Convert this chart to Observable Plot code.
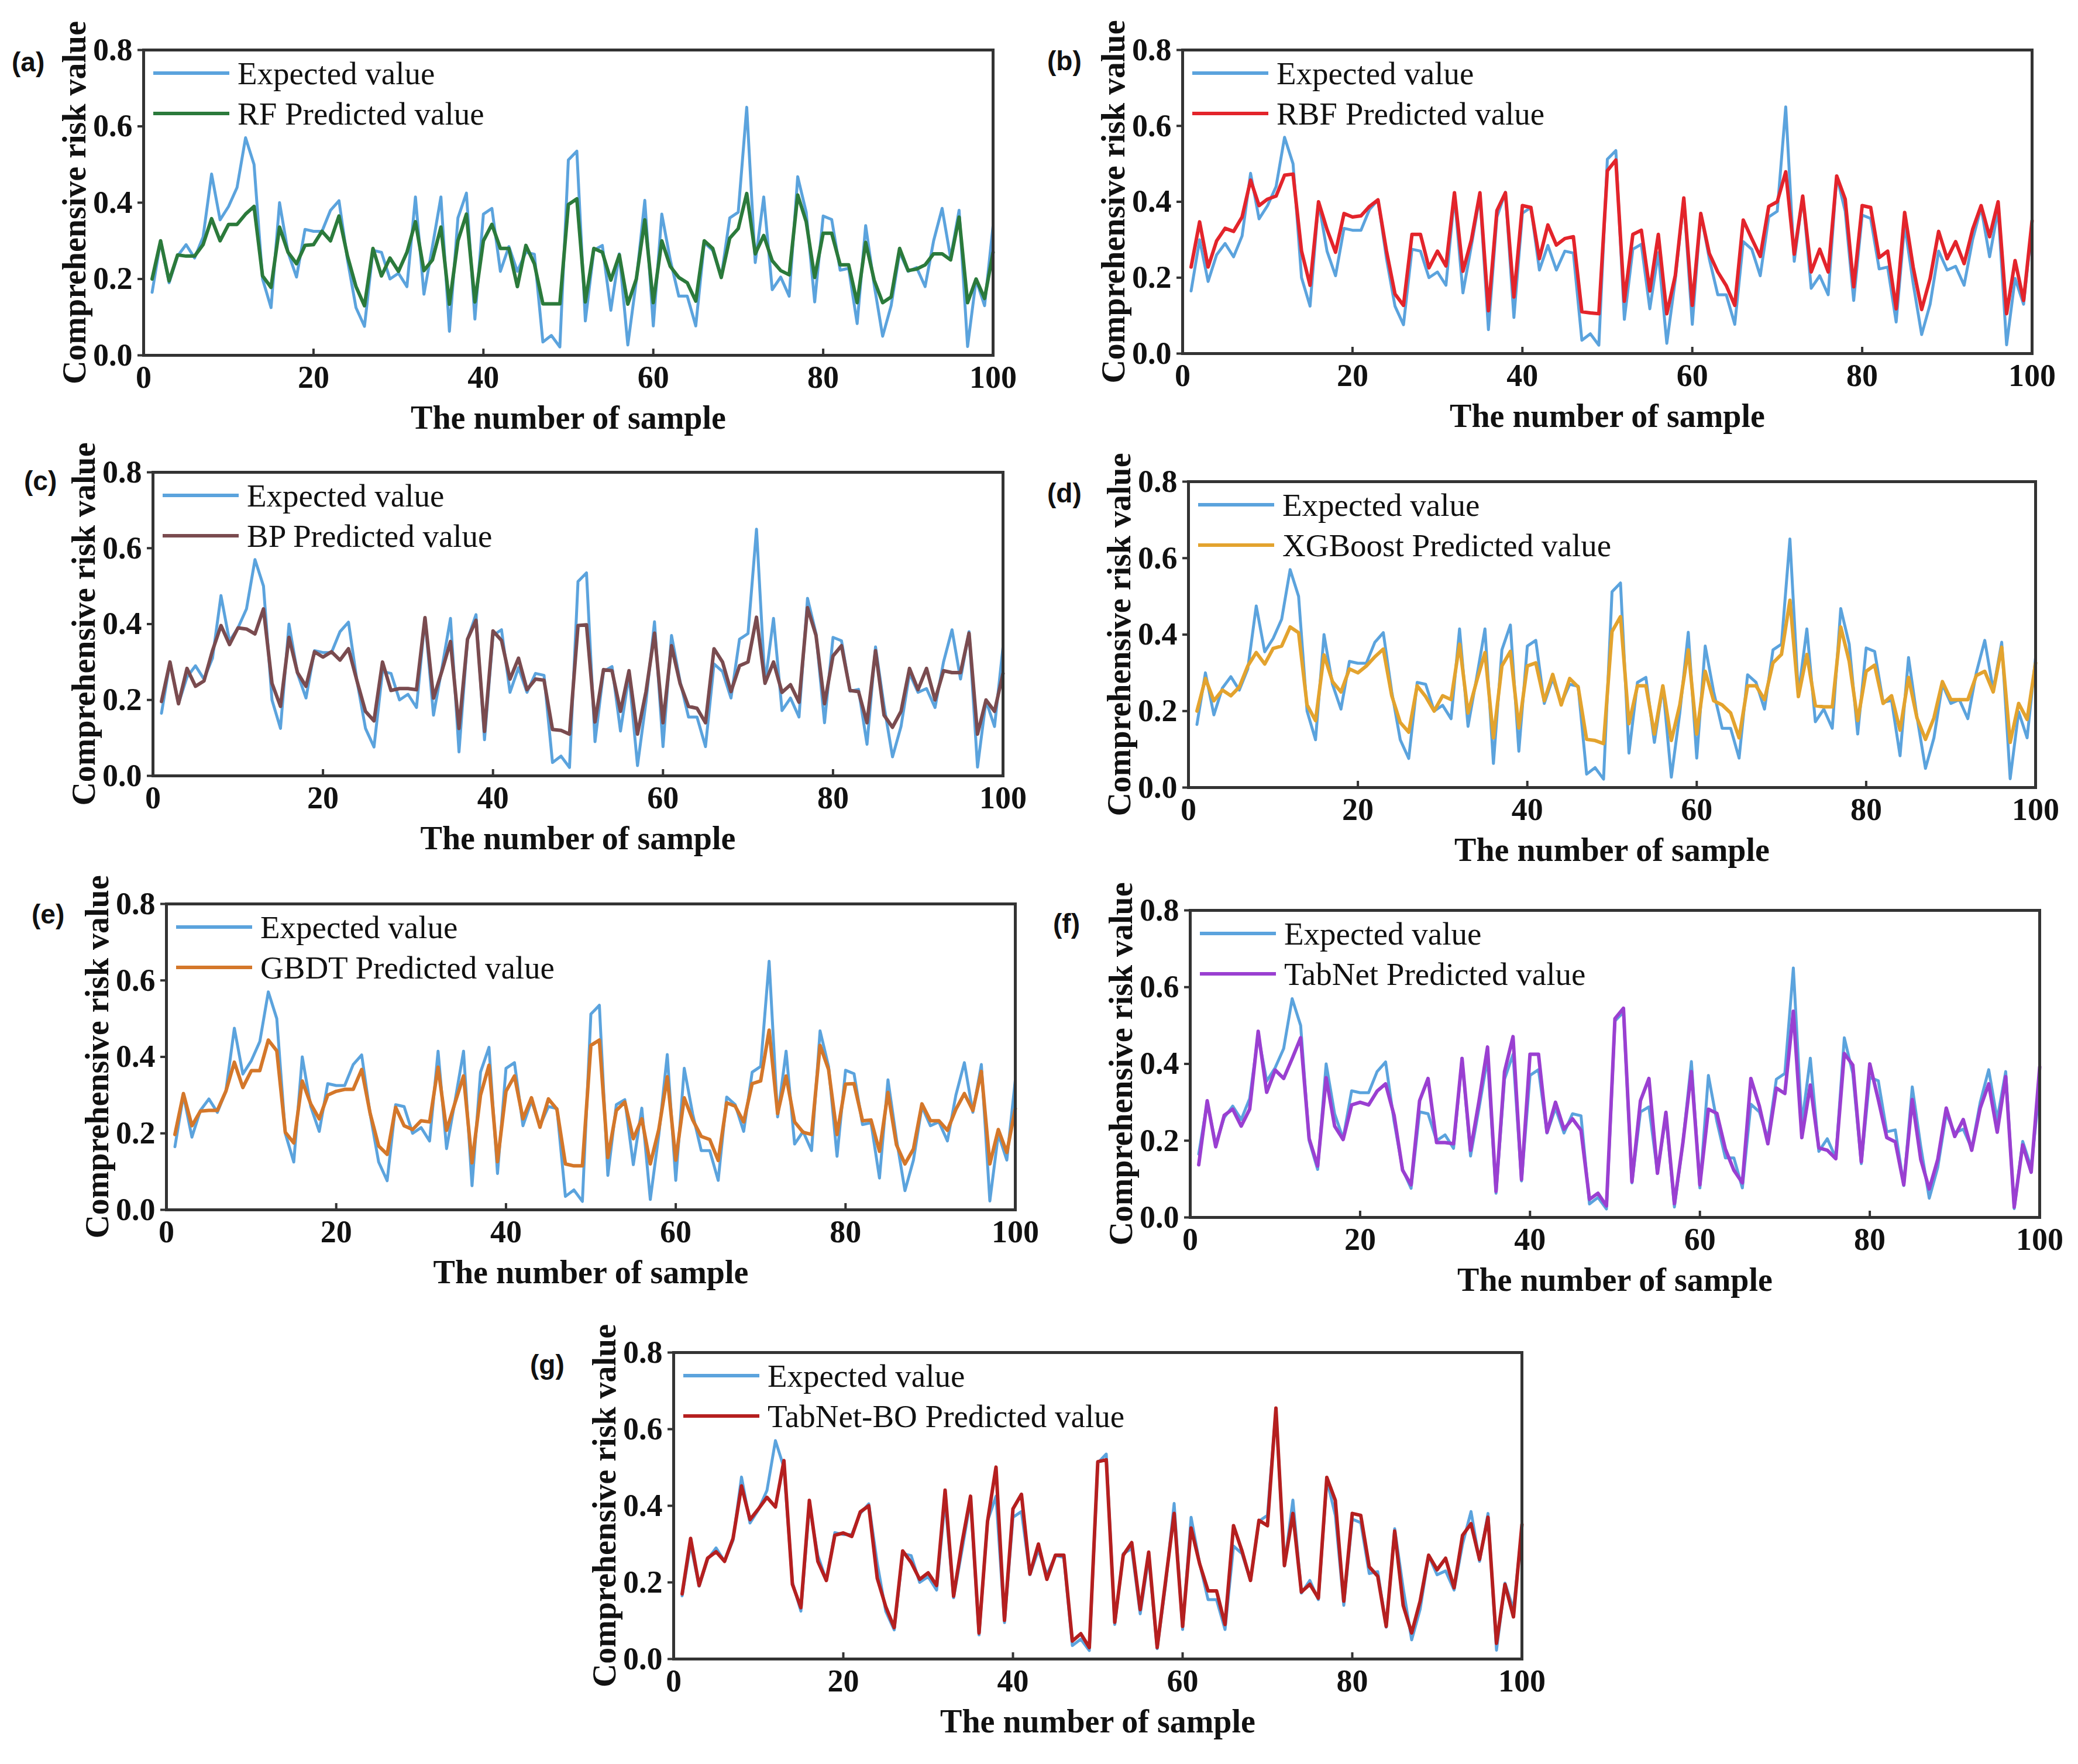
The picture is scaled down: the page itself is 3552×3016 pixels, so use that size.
<!DOCTYPE html>
<html><head><meta charset="utf-8">
<script src="https://cdn.jsdelivr.net/npm/d3@7"></script>
<script src="https://cdn.jsdelivr.net/npm/@observablehq/plot@0.6"></script>
<style>
html,body{margin:0;padding:0;background:#fff;}
#root{position:relative;width:3552px;height:3016px;overflow:hidden;background:#fff;}
#root svg{position:absolute;overflow:visible;}
.tag{position:absolute;font-family:"Liberation Sans",Arial,sans-serif;font-weight:bold;font-size:46px;line-height:1;color:#111;transform:translateY(-50%);}
.legend{position:absolute;font-family:"Liberation Serif","Times New Roman",serif;font-size:55px;color:#111;}
.legend .row{position:absolute;left:0;display:flex;align-items:center;white-space:nowrap;height:60px;}
.legend .sw{width:130px;height:6px;margin-right:14px;}
</style></head><body><div id="root"></div>
<script>
const samples = d3.range(1, 101);
const xTicks = [0, 20, 40, 60, 80, 100];
const xTickLabels = ["0", "20", "40", "60", "80", "100"];
const yTicks = [0, 0.2, 0.4, 0.6, 0.8];
const yTickLabels = ["0.0", "0.2", "0.4", "0.6", "0.8"];
const xTitle = "The number of sample";
const yTitle = "Comprehensive risk value";
const expectedName = "Expected value";

const expected = [0.165,0.30,0.19,0.26,0.29,0.255,0.31,0.475,0.355,0.39,
 0.44,0.57,0.50,0.20,0.125,0.40,0.27,0.205,0.33,0.325,
 0.325,0.38,0.405,0.25,0.125,0.076,0.275,0.27,0.20,0.215,
 0.18,0.415,0.16,0.285,0.415,0.063,0.36,0.425,0.095,0.37,
 0.385,0.22,0.285,0.22,0.27,0.265,0.035,0.052,0.022,0.512,
 0.535,0.09,0.275,0.288,0.118,0.266,0.027,0.195,0.406,0.077,
 0.37,0.25,0.155,0.155,0.077,0.295,0.275,0.205,0.36,0.375,
 0.65,0.243,0.415,0.172,0.205,0.155,0.468,0.375,0.14,0.365,
 0.356,0.223,0.228,0.083,0.34,0.185,0.05,0.13,0.27,0.22,
 0.23,0.18,0.30,0.385,0.255,0.38,0.023,0.198,0.13,0.34];

const rfPred = [0.20,0.30,0.195,0.263,0.26,0.26,0.29,0.358,0.30,0.343,
 0.343,0.37,0.39,0.208,0.178,0.336,0.27,0.24,0.288,0.29,
 0.325,0.30,0.365,0.26,0.18,0.13,0.28,0.208,0.255,0.22,
 0.27,0.35,0.222,0.25,0.336,0.134,0.30,0.37,0.14,0.30,
 0.343,0.28,0.28,0.18,0.288,0.24,0.135,0.135,0.135,0.395,
 0.41,0.14,0.28,0.27,0.197,0.263,0.134,0.2,0.355,0.138,
 0.30,0.233,0.204,0.19,0.142,0.30,0.28,0.204,0.307,0.332,
 0.424,0.266,0.314,0.248,0.222,0.211,0.42,0.35,0.204,0.32,
 0.32,0.237,0.237,0.138,0.296,0.197,0.138,0.153,0.28,0.222,
 0.226,0.237,0.266,0.266,0.25,0.362,0.138,0.2,0.149,0.27];

const rbfPred = [0.228,0.347,0.228,0.297,0.33,0.322,0.36,0.457,0.39,0.407,
 0.415,0.47,0.473,0.27,0.18,0.40,0.327,0.267,0.369,0.36,
 0.363,0.388,0.405,0.27,0.157,0.127,0.314,0.314,0.226,0.27,
 0.231,0.424,0.217,0.30,0.424,0.113,0.377,0.424,0.149,0.39,
 0.385,0.25,0.339,0.286,0.303,0.308,0.11,0.107,0.105,0.482,
 0.51,0.138,0.314,0.325,0.165,0.314,0.105,0.206,0.41,0.127,
 0.369,0.264,0.215,0.179,0.127,0.352,0.303,0.256,0.388,0.40,
 0.479,0.262,0.415,0.215,0.275,0.215,0.468,0.407,0.176,0.39,
 0.385,0.253,0.27,0.118,0.372,0.228,0.116,0.198,0.322,0.25,
 0.295,0.237,0.327,0.39,0.308,0.40,0.105,0.245,0.14,0.35];

const bpPred = [0.196,0.30,0.19,0.283,0.236,0.25,0.33,0.396,0.346,0.39,
 0.387,0.374,0.44,0.244,0.183,0.365,0.272,0.236,0.327,0.313,
 0.327,0.305,0.335,0.25,0.17,0.145,0.30,0.225,0.23,0.23,
 0.227,0.417,0.205,0.277,0.354,0.125,0.36,0.41,0.117,0.382,
 0.357,0.255,0.31,0.227,0.255,0.252,0.122,0.12,0.11,0.396,
 0.398,0.142,0.28,0.277,0.17,0.277,0.11,0.222,0.376,0.14,
 0.343,0.244,0.183,0.178,0.14,0.335,0.30,0.222,0.29,0.30,
 0.418,0.244,0.30,0.22,0.24,0.194,0.443,0.37,0.19,0.316,
 0.343,0.225,0.222,0.14,0.33,0.16,0.128,0.17,0.283,0.227,
 0.283,0.20,0.277,0.272,0.272,0.376,0.11,0.20,0.17,0.27];

const xgbPred = [0.20,0.285,0.227,0.255,0.24,0.263,0.318,0.353,0.323,0.364,
 0.37,0.42,0.405,0.216,0.175,0.347,0.277,0.25,0.31,0.30,
 0.318,0.342,0.362,0.24,0.17,0.145,0.266,0.238,0.20,0.24,
 0.23,0.375,0.195,0.277,0.353,0.13,0.318,0.356,0.156,0.318,
 0.326,0.227,0.296,0.216,0.285,0.263,0.126,0.123,0.115,0.408,
 0.447,0.167,0.266,0.266,0.14,0.266,0.123,0.216,0.36,0.14,
 0.304,0.227,0.216,0.195,0.13,0.266,0.266,0.23,0.326,0.348,
 0.49,0.238,0.348,0.214,0.211,0.211,0.42,0.33,0.175,0.304,
 0.32,0.22,0.24,0.15,0.288,0.182,0.126,0.182,0.277,0.23,
 0.23,0.23,0.293,0.304,0.25,0.367,0.118,0.22,0.178,0.326];

const gbdtPred = [0.197,0.304,0.22,0.258,0.26,0.26,0.31,0.386,0.32,0.364,
 0.364,0.444,0.416,0.203,0.175,0.337,0.277,0.238,0.30,0.31,
 0.315,0.315,0.367,0.252,0.167,0.145,0.268,0.22,0.21,0.233,
 0.23,0.373,0.208,0.28,0.35,0.123,0.30,0.378,0.126,0.31,
 0.35,0.238,0.293,0.216,0.29,0.263,0.12,0.115,0.115,0.43,
 0.444,0.137,0.26,0.282,0.186,0.238,0.12,0.21,0.348,0.13,
 0.293,0.235,0.192,0.184,0.129,0.28,0.271,0.23,0.33,0.337,
 0.47,0.252,0.35,0.23,0.203,0.197,0.43,0.367,0.197,0.329,
 0.33,0.233,0.235,0.153,0.307,0.17,0.12,0.159,0.277,0.233,
 0.233,0.208,0.263,0.304,0.26,0.362,0.12,0.21,0.15,0.265];

const tabnetPred = [0.137,0.304,0.184,0.266,0.282,0.238,0.282,0.485,0.326,0.384,
 0.362,0.414,0.468,0.205,0.134,0.364,0.238,0.203,0.293,0.30,
 0.293,0.329,0.348,0.266,0.123,0.085,0.304,0.362,0.195,0.195,
 0.192,0.414,0.175,0.304,0.444,0.068,0.38,0.471,0.099,0.425,
 0.425,0.222,0.30,0.23,0.257,0.227,0.047,0.063,0.03,0.518,
 0.545,0.093,0.304,0.362,0.115,0.274,0.036,0.195,0.38,0.085,
 0.282,0.271,0.178,0.123,0.09,0.362,0.29,0.192,0.337,0.323,
 0.537,0.208,0.345,0.181,0.175,0.153,0.427,0.397,0.145,0.40,
 0.307,0.208,0.197,0.085,0.307,0.151,0.074,0.151,0.285,0.211,
 0.255,0.175,0.285,0.348,0.222,0.367,0.027,0.189,0.118,0.392];

const tabnetBoPred = [0.17,0.315,0.192,0.263,0.28,0.255,0.315,0.452,0.364,0.392,
 0.422,0.397,0.518,0.195,0.134,0.414,0.255,0.205,0.323,0.329,
 0.32,0.384,0.40,0.211,0.137,0.082,0.282,0.252,0.208,0.225,
 0.192,0.441,0.164,0.304,0.425,0.068,0.359,0.501,0.101,0.392,
 0.43,0.222,0.30,0.208,0.271,0.271,0.047,0.066,0.03,0.515,
 0.52,0.096,0.271,0.304,0.129,0.279,0.03,0.205,0.38,0.085,
 0.342,0.249,0.178,0.178,0.09,0.348,0.282,0.205,0.362,0.348,
 0.655,0.244,0.38,0.175,0.195,0.159,0.474,0.414,0.151,0.38,
 0.375,0.241,0.216,0.085,0.334,0.14,0.068,0.151,0.271,0.233,
 0.263,0.186,0.323,0.353,0.26,0.37,0.041,0.195,0.11,0.351];

const panelTags = ["(a)", "(b)", "(c)", "(d)", "(e)", "(f)", "(g)"];
const modelNames = ["RF Predicted value", "RBF Predicted value", "BP Predicted value",
  "XGBoost Predicted value", "GBDT Predicted value", "TabNet Predicted value", "TabNet-BO Predicted value"];
const modelSeries = [rfPred, rbfPred, bpPred, xgbPred, gbdtPred, tabnetPred, tabnetBoPred];

// styling / layout (pixels)
const expectedColor = "#5ba3dd";
const modelColors = ["#2b7a3b", "#e3242b", "#7a4b4f", "#e3a32e", "#d4772a", "#9a3fd1", "#b51f1f"];
const layout = [
  {left: 245, top: 85, w: 1452, h: 522, tagX: 20, tagY: 106},
  {left: 2021, top: 85, w: 1452, h: 519, tagX: 1790, tagY: 104},
  {left: 261, top: 807, w: 1453, h: 519, tagX: 41, tagY: 822},
  {left: 2031, top: 823, w: 1448, h: 523, tagX: 1790, tagY: 843},
  {left: 284, top: 1545, w: 1451, h: 523, tagX: 54, tagY: 1563},
  {left: 2034, top: 1556, w: 1452, h: 525, tagX: 1800, tagY: 1579},
  {left: 1151, top: 2312, w: 1450, h: 524, tagX: 906, tagY: 2333}
];
const mL = 170, mR = 30, mT = 20, mB = 150;

const root = document.getElementById("root");

modelSeries.forEach((series, k) => {
  const L = layout[k];
  const data = samples.map((s, i) => ({s, e: expected[i], p: series[i]}));
  const chart = Plot.plot({
    width: mL + L.w + mR,
    height: mT + L.h + mB,
    marginLeft: mL, marginRight: mR, marginTop: mT, marginBottom: mB,
    style: {fontFamily: "'Liberation Serif','Times New Roman',serif", fontSize: "54px", fontWeight: "bold", color: "#111", background: "transparent", overflow: "visible"},
    x: {domain: [0, 100]},
    y: {domain: [0, 0.8]},
    marks: [
      Plot.lineY(data, {x: "s", y: "e", stroke: expectedColor, strokeWidth: 5}),
      Plot.lineY(data, {x: "s", y: "p", stroke: modelColors[k], strokeWidth: 6}),
      Plot.frame({stroke: "#333", strokeWidth: 5}),
      Plot.axisX(xTicks, {tickSize: -11, tickPadding: 28, strokeWidth: 4, stroke: "#333",
        tickFormat: d => xTickLabels[xTicks.indexOf(d)], label: null}),
      Plot.axisY(yTicks, {tickSize: 10, tickPadding: 9, strokeWidth: 4, stroke: "#333",
        tickFormat: d => yTickLabels[yTicks.indexOf(d)], label: null}),
      Plot.text([xTitle], {x: () => 50, y: () => 0, dy: 108, text: d => d, fontSize: 56, fill: "#111"}),
      Plot.text([yTitle], {x: () => 0, y: () => 0.4, dx: -117, rotate: -90, text: d => d, fontSize: 56, fill: "#111"})
    ]
  });
  chart.style.left = (L.left - mL) + "px";
  chart.style.top = (L.top - mT) + "px";
  root.appendChild(chart);

  const tag = document.createElement("div");
  tag.className = "tag";
  tag.textContent = panelTags[k];
  tag.style.left = L.tagX + "px";
  tag.style.top = L.tagY + "px";
  root.appendChild(tag);

  const leg = document.createElement("div");
  leg.className = "legend";
  leg.style.left = (L.left + 17) + "px";
  leg.style.top = L.top + "px";
  [[expectedName, expectedColor, 40], [modelNames[k], modelColors[k], 109]].forEach(([name, color, cy]) => {
    const row = document.createElement("div");
    row.className = "row";
    row.style.top = (cy - 30) + "px";
    const sw = document.createElement("span");
    sw.className = "sw";
    sw.style.background = color;
    const tx = document.createElement("span");
    tx.textContent = name;
    row.appendChild(sw);
    row.appendChild(tx);
    leg.appendChild(row);
  });
  root.appendChild(leg);
});
</script></body></html>
